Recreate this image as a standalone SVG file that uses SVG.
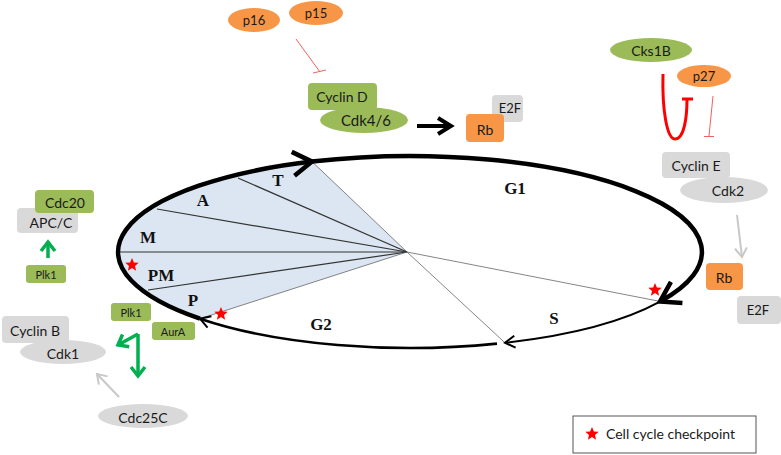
<svg xmlns="http://www.w3.org/2000/svg" width="781" height="455" viewBox="0 0 781 455">
<style>
.g{fill:#9bbb59}
.o{fill:#f79646}
.y{fill:#d9d9d9}
.t{font-family:Lato,"Liberation Sans",sans-serif;fill:#1a1a1a;text-anchor:middle;dominant-baseline:central}
.s{font-size:11px}
.m{font-size:13px}
.l{font-size:14px}
.ph{font-family:"Liberation Serif",serif;font-weight:bold;font-size:17px;fill:#111;text-anchor:middle;dominant-baseline:central}
.ray{stroke:#333;stroke-width:1.2;fill:none}
.rayl{stroke:#666;stroke-width:0.8;fill:none}
.inh{stroke:#f06060;stroke-width:1;fill:none}
</style>
<defs>
<marker id="aBig" markerUnits="userSpaceOnUse" orient="auto" overflow="visible" markerWidth="1" markerHeight="1"><path d="M-19,-12 L0,0 L-19,12" fill="none" stroke="#000" stroke-width="4.5"/></marker>
<marker id="aMed" markerUnits="userSpaceOnUse" orient="auto" overflow="visible" markerWidth="1" markerHeight="1"><path d="M-13,-8 L0,0 L-13,8" fill="none" stroke="#000" stroke-width="4"/></marker>
<marker id="aThin" markerUnits="userSpaceOnUse" orient="auto" overflow="visible" markerWidth="1" markerHeight="1"><path d="M-10,-6 L0,0 L-10,6" fill="none" stroke="#000" stroke-width="2"/></marker>
<marker id="aGreen" markerUnits="userSpaceOnUse" orient="auto" overflow="visible" markerWidth="1" markerHeight="1"><path d="M-9,-7 L0,0 L-9,7" fill="none" stroke="#00b050" stroke-width="3.5"/></marker>
<marker id="aGray" markerUnits="userSpaceOnUse" orient="auto" overflow="visible" markerWidth="1" markerHeight="1"><path d="M-9,-6 L0,0 L-9,6" fill="none" stroke="#c8c8c8" stroke-width="2"/></marker>
<path id="star" d="M0,-7 L1.9,-2.4 L6.7,-2.2 L3,0.9 L4.1,5.7 L0,3 L-4.1,5.7 L-3,0.9 L-6.7,-2.2 L-1.9,-2.4 Z" fill="#ff0000"/>
</defs>
<rect width="781" height="455" fill="#fff"/>

<g id="cycle">
<path d="M407,252 L200,318.7 A292,96 0 0,1 312,161.6 Z" fill="#dce6f2"/>
<line class="rayl" x1="407" y1="252" x2="312" y2="161.6"/>
<line class="ray" x1="407" y1="252" x2="238" y2="178"/>
<line class="ray" x1="407" y1="252" x2="157" y2="209"/>
<line class="ray" x1="407" y1="252" x2="118" y2="252"/>
<line class="ray" x1="407" y1="252" x2="148" y2="290"/>
<line class="rayl" x1="407" y1="252" x2="200" y2="318.7"/>
<line class="rayl" x1="407" y1="252" x2="658" y2="301"/>
<line class="rayl" x1="407" y1="252" x2="505" y2="342.8"/>
<path d="M200,318.7 A292,96 0 0,1 312,161.6" fill="none" stroke="#000" stroke-width="4.5" marker-end="url(#aBig)"/>
<path d="M312,161.6 A292,96 0 0,1 660,301.6" fill="none" stroke="#000" stroke-width="4.5" marker-end="url(#aBig)"/>
<path d="M660,301.6 A292,96 0 0,1 505,342.8" fill="none" stroke="#000" stroke-width="2" marker-end="url(#aThin)"/>
<path d="M497,343.6 A292,96 0 0,1 200,318.7" fill="none" stroke="#000" stroke-width="2.6" marker-end="url(#aThin)"/>
<text class="ph" x="278" y="180">T</text>
<text class="ph" x="203" y="200">A</text>
<text class="ph" x="148" y="237">M</text>
<text class="ph" x="161" y="275">PM</text>
<text class="ph" x="193" y="300">P</text>
<text class="ph" x="515" y="188">G1</text>
<text class="ph" x="554" y="318">S</text>
<text class="ph" x="321" y="324">G2</text>
<use href="#star" x="132" y="265"/>
<use href="#star" x="221" y="314"/>
<use href="#star" x="655" y="290"/>
</g>

<g id="connectors">
<line class="inh" x1="296" y1="39" x2="320" y2="72"/>
<line class="inh" x1="313" y1="73" x2="326" y2="70"/>
<line x1="417" y1="126" x2="451" y2="126" stroke="#000" stroke-width="4" marker-end="url(#aMed)"/>
<path d="M663,74 C662,110 667,139 675,139 C684,139 687,118 687,99" fill="none" stroke="#ff0000" stroke-width="3"/>
<line x1="682" y1="99" x2="693" y2="99" stroke="#ff0000" stroke-width="3"/>
<line class="inh" x1="713" y1="96" x2="709" y2="136"/>
<line class="inh" x1="704" y1="136.5" x2="714" y2="136.5"/>
<line x1="737" y1="215" x2="742" y2="257" stroke="#c8c8c8" stroke-width="2" marker-end="url(#aGray)"/>
<line x1="48" y1="258" x2="48" y2="242" stroke="#00b050" stroke-width="3.5" marker-end="url(#aGreen)"/>
<line x1="138" y1="334" x2="118" y2="345" stroke="#00b050" stroke-width="3.5" marker-end="url(#aGreen)"/>
<line x1="138" y1="334" x2="138" y2="376" stroke="#00b050" stroke-width="3.5" marker-end="url(#aGreen)"/>
<line x1="119" y1="397" x2="97" y2="374" stroke="#c8c8c8" stroke-width="2" marker-end="url(#aGray)"/>
</g>

<g id="p16"><ellipse class="o" cx="254" cy="20" rx="26" ry="12"/><text class="t m" x="254" y="20">p16</text></g>
<g id="p15"><ellipse class="o" cx="316" cy="13" rx="27" ry="12"/><text class="t m" x="316" y="13">p15</text></g>
<g id="cyclinD"><rect class="g" x="308" y="83" width="69" height="27" rx="4"/><text class="t l" x="342" y="96">Cyclin D</text></g>
<g id="cdk46"><ellipse class="g" cx="364" cy="120" rx="44" ry="13"/><text class="t l" x="366" y="120" style="font-size:15px">Cdk4/6</text></g>
<g id="e2f1"><rect class="y" x="492" y="95" width="31" height="27" rx="4"/><text class="t m" x="510" y="108">E2F</text></g>
<g id="rb1"><rect class="o" x="466" y="114" width="38" height="28" rx="4"/><text class="t l" x="485" y="129">Rb</text></g>

<g id="cks1b"><ellipse class="g" cx="651" cy="50" rx="41" ry="12"/><text class="t l" x="651" y="50">Cks1B</text></g>
<g id="p27"><ellipse class="o" cx="704" cy="76" rx="27" ry="11"/><text class="t m" x="704" y="76">p27</text></g>
<g id="cyclinE"><rect class="y" x="662" y="152" width="68" height="26" rx="4"/><text class="t l" x="696" y="165">Cyclin E</text></g>
<g id="cdk2"><ellipse class="y" cx="724" cy="190" rx="44" ry="13"/><text class="t l" x="728" y="190">Cdk2</text></g>
<g id="rb2"><rect class="o" x="706" y="263" width="37" height="27" rx="4"/><text class="t l" x="724" y="277">Rb</text></g>
<g id="e2f2"><rect class="y" x="737" y="296" width="44" height="28" rx="4"/><text class="t m" x="758" y="310">E2F</text></g>

<g id="apcc"><rect class="y" x="17" y="208" width="61" height="25" rx="4"/><text class="t l" x="51" y="222">APC/C</text></g>
<g id="cdc20"><rect class="g" x="35" y="190" width="59" height="23" rx="4"/><text class="t l" x="65" y="202">Cdc20</text></g>
<g id="plk1a"><rect class="g" x="26" y="265" width="40" height="18" rx="3"/><text class="t s" x="46" y="274">Plk1</text></g>
<g id="plk1b"><rect class="g" x="111" y="303" width="40" height="18" rx="3"/><text class="t s" x="131" y="312">Plk1</text></g>
<g id="aurA"><rect class="g" x="152" y="322" width="43" height="18" rx="3"/><text class="t s" x="173" y="331">AurA</text></g>
<g id="cyclinB"><rect class="y" x="2" y="316" width="67" height="27" rx="4"/><text class="t l" x="35" y="330">Cyclin B</text></g>
<g id="cdk1"><ellipse class="y" cx="63" cy="352" rx="43" ry="12"/><text class="t l" x="63" y="353">Cdk1</text></g>
<g id="cdc25c"><ellipse class="y" cx="143" cy="416" rx="45" ry="12"/><text class="t l" x="143" y="417">Cdc25C</text></g>

<g id="legend">
<rect x="573" y="416" width="183" height="37" fill="#fff" stroke="#555" stroke-width="1"/>
<use href="#star" x="592" y="434"/>
<text class="t l" x="606" y="433" style="text-anchor:start">Cell cycle checkpoint</text>
</g>
</svg>
